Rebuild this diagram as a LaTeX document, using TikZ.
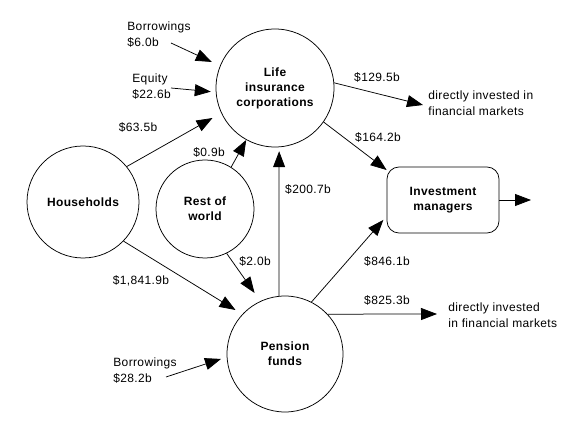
\documentclass[tikz,border=0pt]{standalone}
\usepackage{fontspec}
\setmainfont[LetterSpace=3]{Liberation Sans}
\usetikzlibrary{arrows.meta}

\begin{document}
\begin{tikzpicture}[>={Triangle[length=16bp,width=12bp]},line join=bevel,
  fund/.style={circle,draw,inner sep=0pt,align=center,
    font=\fontsize{12bp}{15bp}\selectfont\bfseries},
  amt/.style={inner sep=0pt,font=\fontsize{12bp}{16bp}\selectfont},
  note/.style={amt,align=left,anchor=west}]
  \pgfsetlinewidth{0.75bp}
  \useasboundingbox (0bp,0bp) rectangle (588bp,422bp);
%%
  % Node: life
  \node[fund,minimum size=118bp] (life) at (275bp,334bp) {Life\\insurance\\corporations};
  % Node: hh
  \node[fund,minimum size=112bp] (hh) at (83bp,220bp) {Households};
  % Node: row
  \node[fund,minimum size=98bp] (row) at (205bp,213bp) {Rest of\\world};
  % Node: pen
  \node[fund,minimum size=116bp] (pen) at (285bp,68bp) {Pension\\funds};
  % Node: inv
  \node[draw,rounded corners=12bp,minimum width=112bp,minimum height=66bp,
    align=center,font=\fontsize{12bp}{15bp}\selectfont\bfseries] (inv) at (443bp,222bp) {Investment\\managers};
  % free ends
  \coordinate (bor1) at (171bp,379bp);
  \coordinate (eq) at (171bp,334bp);
  \coordinate (bor2) at (166bp,45bp);
  \coordinate (dir1) at (423bp,317bp);
  \coordinate (dir2) at (437bp,108bp);
  \coordinate (out) at (531bp,222bp);
%%
  % Edge: bor1 -> life
  \draw[->,shorten >=9bp] (bor1) -- (life.158);
  \node[note] (nbor1) at (127bp,387.5bp) {Borrowings\\\$6.0b};
  % Edge: eq -> life
  \draw[->,shorten >=5bp] (eq) -- (life.184);
  \node[note] (neq) at (132bp,335.5bp) {Equity\\\$22.6b};
  % Edge: hh -> life
  \draw[->,shorten >=10bp] (hh.39) -- (life.205);
  \node[amt] (lhl) at (138bp,295bp) {\$63.5b};
  % Edge: row -> life
  \draw[->] (row.58) -- (life.241);
  \node[amt] (lrl) at (209bp,270bp) {\$0.9b};
  % Edge: row -> pen
  \draw[->,shorten >=10bp] (row.296) -- (pen.115);
  \node[amt] (lrp) at (255bp,161bp) {\$2.0b};
  % Edge: hh -> pen
  \draw[->,shorten >=8bp] (hh.316) -- (pen.137);
  \node[amt] (lhp) at (141bp,141bp) {\$1,841.9b};
  % Edge: pen -> life
  \draw[->,shorten >=4bp] (pen.96) -- (life.274);
  \node[amt] (lpl) at (308bp,233bp) {\$200.7b};
  % Edge: life -> dir1
  \draw[->] (life.5) -- (dir1);
  \node[amt] (lld) at (377bp,345bp) {\$129.5b};
  \node[note] (ndir1) at (428bp,318.5bp) {directly invested in\\financial markets};
  % Edge: life -> inv
  \draw[->] (life.325) -- (inv.152);
  \node[amt] (lli) at (378bp,285bp) {\$164.2b};
  % Edge: pen -> inv
  \draw[->,shorten >=5bp] (pen.63) -- (inv.196);
  \node[amt] (lpi) at (387bp,161bp) {\$846.1b};
  % Edge: pen -> dir2
  \draw[->] (pen.43) -- (dir2);
  \node[amt] (lpd) at (387bp,122bp) {\$825.3b};
  \node[note] (ndir2) at (448bp,107bp) {directly invested\\in financial markets};
  % Edge: bor2 -> pen
  \draw[->,shorten >=6bp] (bor2) -- (pen.183);
  \node[note] (nbor2) at (113bp,51bp) {Borrowings\\\$28.2b};
  % Edge: inv -> out
  \draw[->] (inv.east) -- (out);
%
\end{tikzpicture}
\end{document}
